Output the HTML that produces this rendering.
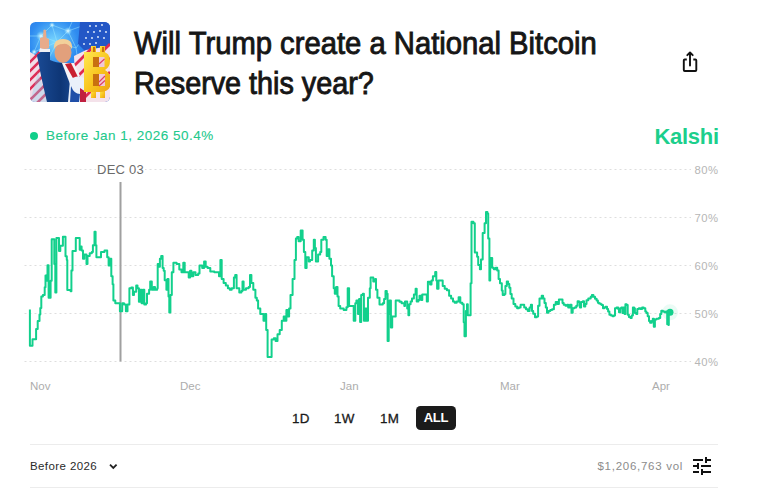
<!DOCTYPE html>
<html><head><meta charset="utf-8">
<style>
html,body{margin:0;padding:0;background:#fff;}
body{width:758px;height:501px;position:relative;overflow:hidden;font-family:"Liberation Sans",sans-serif;}
.abs{position:absolute;white-space:nowrap;}
.title{font-size:30.5px;font-weight:normal;-webkit-text-stroke:0.9px #161616;line-height:40px;color:#161616;transform-origin:0 0;}
.sub{left:46px;top:128px;font-size:13.5px;color:#22c98b;letter-spacing:0.48px;-webkit-text-stroke:0.1px #22c98b;}
.dot{left:30px;top:132px;width:8px;height:8px;border-radius:50%;background:#10cf8a;}
.logo{left:654.5px;top:123.5px;font-size:22px;font-weight:bold;color:#1ccf8c;letter-spacing:-0.3px;}
.ylab{left:694.5px;font-size:11.3px;color:#b6b6b6;letter-spacing:0.45px;margin-top:1px;}
.xlab{font-size:11.5px;color:#adadad;top:380px;}
.dec{left:96px;top:162px;font-size:13px;color:#6b6b6b;background:#fff;padding:0 1px;letter-spacing:0.25px;}
.rng{top:411px;font-size:13.4px;color:#1a1a1a;-webkit-text-stroke:0.3px #1a1a1a;letter-spacing:0.2px;}
.all{left:416px;top:406px;width:40px;height:23.5px;border-radius:4.5px;background:#1b1b1b;color:#fff;font-weight:bold;font-size:13px;letter-spacing:-0.2px;text-align:center;line-height:24px;}
.sep{left:30px;width:688px;height:1px;background:#ececec;}
.bef{left:30px;top:459.5px;font-size:11.5px;color:#2a2a2a;letter-spacing:0.4px;}
.vol{left:597.5px;top:459.5px;font-size:11.5px;color:#8c8c8c;letter-spacing:0.72px;}
</style></head><body>
<svg class="abs" style="left:0;top:0" width="758" height="501" viewBox="0 0 758 501">
<g stroke="#dedede" stroke-width="1" stroke-dasharray="2 3">
<line x1="24.5" y1="169.5" x2="691" y2="169.5"/>
<line x1="24.5" y1="217.5" x2="691" y2="217.5"/>
<line x1="24.5" y1="265.5" x2="691" y2="265.5"/>
<line x1="24.5" y1="313.5" x2="691" y2="313.5"/>
<line x1="24.5" y1="361.5" x2="691" y2="361.5"/>
</g>
<rect x="119.5" y="182" width="2" height="179.5" fill="#a0a0a0"/>
<path d="M29.9 309.4H29.9V345.8H31.7V345.8H32.5V339.3H35.1V339.3H36.1V328.9H37.7V321.1H39.5V314.6H40.3V308.1H41.3V296.4H42.9V295.1H43.9V295.1H44.7V287.3H45.5V275.6H46.5V280.8H47.5V265.3H48.6V297.7H49.9V297.7H50.6V280.8H51.7V239.3H53.2V239.3H54.3V264.0H55.3V292.5H56.4V238.0H58.4V238.0H59.0V251.0H60.3V245.8H62.1V245.8H62.9V236.7H64.7V236.7H65.5V256.2H66.8V260.1H67.3V289.9H70.6V291.2H71.4V270.5H72.5V251.0H74.5V251.0H75.8V238.0H77.7V238.0H79.7V249.7H80.3V246.6H81.6V250.6H83.0V258.7H84.3V254.6H86.5V264.1H87.5V256.0H89.7V253.3H91.8V252.0H92.9V245.2H94.5V231.7H95.6V245.2H96.4V257.3H100.0V257.3H101.0V252.0H104.5V250.6H105.9V250.6H107.2V257.3H108.6V265.4H109.9V258.7H111.3V276.2H112.6V284.3H113.4V300.5H115.3V303.2H118.0V303.2H119.9V311.3H122.2V303.2H124.0V304.5H125.9V311.3H127.5V304.5H129.4V288.3H131.3V287.5H132.9V295.0H134.0V291.8H136.2V285.6H137.5V288.3H138.9V301.8H140.2V289.7H141.6V303.2H142.9V289.7H144.3V304.5H146.1V303.2H147.0V293.7H149.1V289.7H150.2V281.6H151.8V289.7H153.7V287.0H155.0V289.7H157.2V288.3H157.7V264.1H159.1V266.8H159.9V258.7H161.2V256.0H162.6V268.1H163.7V270.8H164.7V280.3H166.4V289.7H167.4V278.9H168.5V296.4H169.3V312.6H170.4V295.0H171.8V272.2H173.4V262.7H176.6V264.1H179.3V269.5H181.5V272.2H183.3V262.7H184.7V272.2H186.8V272.2H188.7V277.6H190.1V270.8H191.4V276.2H193.3V272.2H195.5V274.9H198.2V273.5H199.5V265.4H202.2V268.1H204.1V261.4H205.7V266.8H207.6V268.1H210.3V271.4H214.3V272.2H216.5V272.2H217.7V272.2H219.0V276.2H220.4V260.0H221.7V278.9H223.6V283.0H225.8V285.6H227.9V288.3H229.8V289.7H231.7V288.3H233.9V277.6H235.2V274.9H236.6V288.3H239.3V292.4H241.4V291.0H242.5V281.6H243.6V289.7H246.0V288.3H248.7V287.0H250.0V274.9H251.4V283.0H253.3V289.7H255.4V297.8H256.8V300.5H258.1V308.6H260.3V314.0H262.2V314.0H263.5V320.7H264.9V314.0H266.2V330.1H267.6V357.1H270.3V357.1H271.6V339.6H273.8V338.2H275.6V340.9H277.5V334.2H279.7V330.1H281.8V320.7H283.7V316.6H285.1V320.7H286.4V309.9H287.8V316.6H289.1V308.6H290.5V295.0H292.6V278.9H294.5V260.0H295.9V238.5H297.2V237.1H298.6V241.2H300.7V230.4H302.6V239.8H303.9V252.0H305.3V268.1H306.6V257.3H308.8V261.4H310.0V260.0H312.2V250.6H313.8V239.8H314.9V247.9H315.9V261.4H318.1V254.6H320.2V252.0H321.3V239.8H323.5V237.1H325.6V239.8H326.7V256.0H328.3V249.3H329.4V258.7H331.0V265.4H332.1V276.2H333.7V288.3H334.8V293.7H336.1V287.0H337.5V296.4H338.6V305.9H340.2V308.6H343.7V309.9H346.4V307.2H347.7V288.3H349.1V305.9H352.6V305.9H353.7V320.7H355.3V303.2H356.4V300.5H358.0V313.9H359.1V299.1H360.1V322.0H361.2V295.0H362.8V293.7H363.9V320.7H365.3V308.6H366.6V320.7H368.0V297.8H369.8V288.3H370.6V277.6H373.3V281.6H375.2V278.9H376.0V289.7H377.4V297.8H379.5V304.5H381.4V304.5H382.8V303.2H384.1V299.1H385.5V291.0H386.8V293.7H387.6V340.9H388.7V313.9H389.5V300.5H390.9V327.4H392.2V316.6H394.1V316.6H395.7V300.5H397.6V300.5H399.5V301.8H401.6V303.2H404.3V305.9H405.0V301.4H406.4V301.4H407.2V308.4H408.4V315.3H409.2V304.2H410.6V301.4H412.0V298.6H413.9V294.4H415.6V288.8H416.7V301.4H418.4V300.0H419.5V295.8H421.2V300.0H422.3V294.4H425.1V294.4H426.8V301.4H427.9V281.8H430.1V284.6H431.5V280.4H432.9V276.2H435.2V272.0H436.3V280.4H437.1V288.8H438.5V280.4H440.8V280.4H442.7V286.0H444.7V288.8H446.9V290.2H449.1V295.8H451.1V298.6H453.0V301.4H454.7V302.8H456.7V301.4H458.6V297.2H460.3V302.8H462.3V304.2H463.7V322.3H464.5V336.3H465.9V311.1H467.0V304.2H467.8V315.3H469.8V315.3H470.6V283.2H471.5V221.8H473.4V223.2H474.8V252.5H477.1V256.7H478.2V265.0H479.9V269.2H481.0V259.5H482.7V232.9H484.6V223.2H486.0V212.0H487.4V213.4H488.2V238.5H489.4V280.4H490.2V258.1H492.2V267.8H493.8V269.2H495.8V267.8H497.2V270.6H498.6V279.0H500.0V283.2H501.8V290.4H502.7V294.9H504.5V294.0H505.4V285.9H506.8V281.4H508.1V284.1H509.3V287.7H510.4V294.0H511.7V298.5H513.5V303.9H515.3V306.6H517.1V308.3H518.9V307.5H520.6V304.8H522.4V304.8H524.2V307.5H526.0V309.2H527.8V311.0H529.6V307.5H530.9V304.8H532.0V311.0H533.2V313.7H535.0V317.3H536.8V316.4H538.1V305.7H539.5V298.5H541.7V295.8H543.1V298.5H544.5V303.0H545.8V307.5H547.0V312.8H548.5V311.0H550.3V310.1H552.1V309.2H553.9V304.8H555.7V302.1H557.5V303.9H558.9V299.4H561.0V299.4H562.5V303.0H563.7V304.8H565.5V305.7H567.3V304.8H568.2V307.5H570.0V304.8H571.5V312.8H572.7V308.3H574.5V307.5H576.3V305.7H577.6V301.2H579.0V302.1H579.9V307.5H581.1V302.1H582.9V301.2H584.0V306.6H585.3V303.9H586.5V300.3H588.3V298.5H590.7V296.7H591.9V294.9H593.4V296.7H595.0V298.8H596.6V300.4H597.9V302.7H599.0V303.5H600.6V304.3H601.7V305.1H603.0V308.3H604.3V307.5H605.4V306.7H607.0V309.1H608.1V311.5H609.4V314.7H611.0V315.5H612.6V316.3H613.8V315.5H615.0V308.3H616.6V307.5H618.2V309.1H619.0V312.3H620.2V308.3H621.4V307.5H622.5V313.1H623.4V307.5H624.6V313.9H625.4V304.3H626.6V305.1H627.7V314.7H628.9V317.1H630.5V317.9H631.7V315.5H632.9V307.5H634.1V308.3H634.9V313.1H636.2V313.9H637.3V309.1H638.9V308.3H640.5V309.1H642.1V307.5H643.7V308.3H645.3V311.5H646.4V313.1H647.7V316.3H649.0V321.1H650.1V322.7H651.7V321.1H652.8V318.7H653.8V326.7H654.9V319.5H656.5V318.7H658.9V317.9H660.2V313.9H661.3V310.7H662.9V311.5H664.5V312.3H666.1V311.5H667.2V324.3H668.5V325.1H668.8V312.3H670.1V312.3" fill="none" stroke="#12d08c" stroke-width="2" stroke-linejoin="round"/>
<circle cx="670" cy="312.3" r="8" fill="#12d08c" opacity="0.09"/>
<circle cx="670" cy="312.3" r="3.5" fill="#12d08c"/>
</svg>
<div class="abs title" style="left:134px;top:22.5px;transform:scaleX(0.958)">Will Trump create a National Bitcoin</div>
<div class="abs title" style="left:134px;top:62.5px;transform:scaleX(0.943)">Reserve this year?</div>
<div class="abs dot"></div>
<div class="abs sub">Before Jan 1, 2026 50.4%</div>
<div class="abs logo">Kalshi</div>
<div class="abs dec">DEC 03</div>
<div class="abs ylab" style="top:163px">80%</div>
<div class="abs ylab" style="top:211px">70%</div>
<div class="abs ylab" style="top:259px">60%</div>
<div class="abs ylab" style="top:307px">50%</div>
<div class="abs ylab" style="top:355px">40%</div>
<div class="abs xlab" style="left:30px">Nov</div>
<div class="abs xlab" style="left:180px">Dec</div>
<div class="abs xlab" style="left:340px">Jan</div>
<div class="abs xlab" style="left:500px">Mar</div>
<div class="abs xlab" style="left:652px">Apr</div>
<div class="abs rng" style="left:292px">1D</div>
<div class="abs rng" style="left:334px">1W</div>
<div class="abs rng" style="left:380px">1M</div>
<div class="abs all">ALL</div>
<div class="abs sep" style="top:444px"></div>
<div class="abs sep" style="top:487px"></div>
<div class="abs bef">Before 2026</div>
<svg class="abs" style="left:106px;top:460px" width="14" height="12" viewBox="0 0 14 12"><path d="M4 4.6 L7.3 7.9 L10.6 4.6" fill="none" stroke="#222" stroke-width="1.8"/></svg>
<div class="abs vol">$1,206,763 vol</div>
<svg class="abs" style="left:690px;top:454px" width="24" height="24" viewBox="0 0 24 24"><path fill="#111" d="M3 17v2h6v-2H3zM3 5v2h10V5H3zm10 16v-2h8v-2h-8v-2h-2v6h2zM7 9v2H3v2h4v2h2V9H7zm14 4v-2H11v2h10zm-6-4h2V7h4V5h-4V3h-2v6z"/></svg>
<svg class="abs" style="left:676px;top:44px" width="30" height="32" viewBox="676 44 30 32"><path d="M686.8 59.5 H684.7 Q683.8 59.5 683.8 60.4 V70.1 Q683.8 71 684.7 71 H695.4 Q696.3 71 696.3 70.1 V60.4 Q696.3 59.5 695.4 59.5 H693.3" fill="none" stroke="#111" stroke-width="1.9"/><path d="M690 65.6 V52.6 M687.3 55.2 L690 52.5 L692.7 55.2" fill="none" stroke="#111" stroke-width="1.9" stroke-linecap="round" stroke-linejoin="round"/></svg>
<svg class="abs" style="left:30px;top:22px" width="80" height="80" viewBox="0 0 80 80">
<defs>
<clipPath id="rc"><rect x="0" y="0" width="80" height="80" rx="5.5"/></clipPath>
<radialGradient id="sky" cx="0.3" cy="0.25" r="0.75"><stop offset="0" stop-color="#7ad8ff"/><stop offset="0.4" stop-color="#2f8cf0"/><stop offset="1" stop-color="#1f55d2"/></radialGradient>
<linearGradient id="gold" x1="0" y1="0" x2="1" y2="1"><stop offset="0" stop-color="#ffe850"/><stop offset="0.55" stop-color="#f8c41e"/><stop offset="1" stop-color="#eda314"/></linearGradient>
<linearGradient id="suit" x1="0" y1="0" x2="1" y2="0"><stop offset="0" stop-color="#1a4a94"/><stop offset="0.55" stop-color="#0e3676"/><stop offset="1" stop-color="#1d4e9a"/></linearGradient>
<radialGradient id="glow"><stop offset="0" stop-color="#e8fbff"/><stop offset="1" stop-color="#8fe6ff" stop-opacity="0"/></radialGradient>
</defs>
<g clip-path="url(#rc)">
<rect width="80" height="80" fill="url(#sky)"/>
<g stroke="#9feaff" stroke-width="0.55" opacity="0.9" fill="none">
<path d="M0 14 L11 14 L22 3 L38 9 L52 4 M11 14 L4 30 L18 38 M22 3 L27 20 L38 9 L46 26 L27 20 L11 14 M38 9 L42 0 M46 26 L56 12 L52 4 M4 30 L27 20 M18 38 L27 20 M0 40 L4 30 M46 26 L48 40"/>
</g>
<circle cx="11" cy="14" r="5" fill="url(#glow)"/><circle cx="38" cy="9" r="4" fill="url(#glow)"/><circle cx="22" cy="3" r="3" fill="url(#glow)"/><circle cx="4" cy="30" r="3" fill="url(#glow)"/>
<path d="M0 30 L0 80 L18 80 L12 50 L7 34 Z" fill="#f2dde8"/>
<g stroke="#dd2f58" stroke-width="2.6"><path d="M-4 44 L10 30 M-4 53 L12 37 M-4 62 L14 44 M-4 71 L16 51 M-2 80 L17 61 M6 82 L19 69"/></g>
<path d="M8 50 L18 80 L0 80 Z" fill="#8fd0f0" opacity="0.35"/>
<path d="M50 0 L80 0 L80 28 L56 30 L48 22 Z" fill="#2357c6"/>
<g fill="#eef6ff"><circle cx="60" cy="4" r="0.9"/><circle cx="66" cy="4" r="0.9"/><circle cx="72" cy="3" r="0.9"/><circle cx="58" cy="10" r="0.9"/><circle cx="64" cy="10" r="0.9"/><circle cx="70" cy="9" r="0.9"/><circle cx="76" cy="10" r="0.9"/><circle cx="56" cy="16" r="0.9"/><circle cx="62" cy="16" r="0.9"/><circle cx="68" cy="15" r="0.9"/><circle cx="74" cy="16" r="0.9"/><circle cx="54" cy="22" r="0.9"/><circle cx="60" cy="22" r="0.9"/><circle cx="66" cy="21" r="0.9"/></g>
<path d="M44 34 L56 28 L80 24 L80 80 L46 80 Z" fill="#f4e2ea"/>
<g stroke="#e02a50" stroke-width="2.8"><path d="M44 44 L62 26 M46 56 L80 22 M48 68 L80 36 M50 80 L80 50"/></g>
<path d="M7 33 L12 29 L20 29 L20 38 Q26 41 34 41 L44 43 L50 56 L48 80 L17 80 Q12 60 7 33 Z" fill="url(#suit)"/>
<path d="M9 30 L20 30 L20 27 L10 26 Z" fill="#f0f0f4"/>
<path d="M10 16 Q14 14 19 17 L19 26 Q15 28 10 26 Z" fill="#e8ab8a"/>
<path d="M13 16 L13.5 8 Q15 7 16 8.5 L16.5 16 Z" fill="#e8ab8a"/>
<path d="M32 41 L44 41 L50 54 L40 62 Z" fill="#f4f4f8"/>
<path d="M35 42 L41 41 L48 55 L44 58 Z" fill="#c81f30"/>
<ellipse cx="33" cy="30.5" rx="8.5" ry="10.5" fill="#e2a07c"/>
<path d="M24 27 Q23 17 33 17 Q43 17 42 27 Q38 21 33 22 Q27 22 24 27 Z" fill="#f2d09a"/>
<path d="M40 58 Q46 52 54 56 L56 80 L38 80 Z" fill="#eaf0fa"/>
<path d="M41 64 Q44 72 50 72 L49 80 L40 80 Z" fill="#1f4fa8"/>
<path d="M50 66 L56 70 L56 80 L50 80 Z" fill="#c02040"/>
<g fill="url(#gold)">
<rect x="61" y="24" width="5" height="7"/><rect x="70" y="24" width="5" height="7"/>
<rect x="61" y="68" width="5" height="8"/><rect x="70" y="68" width="5" height="8"/>
<path d="M54 30 L72 30 Q80 30 80 39 Q80 45 75 48 Q81 51 81 59 Q81 70 71 70 L54 70 Z"/>
</g>
<g fill="#c8700f"><rect x="63" y="35" width="6" height="10"/><rect x="63" y="52" width="6" height="12"/><rect x="63" y="25" width="2" height="5"/><rect x="72" y="25" width="2" height="5"/></g>
<g fill="#f0c8d8"><rect x="69" y="35" width="5.5" height="10"/><rect x="69" y="52" width="6" height="12"/></g>
<g stroke="#e04068" stroke-width="1.2"><path d="M69 42 L74.5 37 M69 60 L75 54 M69 64 L75 58.5"/></g>
</g>
</svg>
</body></html>
